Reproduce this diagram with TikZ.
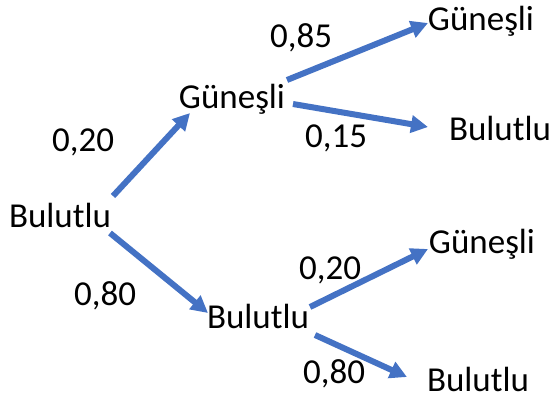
\documentclass[tikz,border=0pt]{standalone}
\usepackage{fontspec}
\setmainfont{Carlito}
\usetikzlibrary{arrows.meta}
\definecolor{arrowblue}{HTML}{4472C4}
\begin{document}
\begin{tikzpicture}[x=1pt,y=-1pt,
  lbl/.style={anchor=base,inner sep=0pt,font=\fontsize{35}{40}\selectfont},
  arr/.style={draw=arrowblue,line width=6pt,
    -{Triangle[length=17pt,width=17pt]},fill=arrowblue}]
\useasboundingbox (0,0) rectangle (552,396);
% states
\node[lbl] (root) at (60,227) {Bulutlu};
\node[lbl] (g1)   at (232,108) {Güneşli};
\node[lbl] (b1)   at (258,328) {Bulutlu};
\node[lbl] (gg)   at (481,31)  {Güneşli};
\node[lbl] (gb)   at (500,140) {Bulutlu};
\node[lbl] (bg)   at (482,253) {Güneşli};
\node[lbl] (bb)   at (478,391) {Bulutlu};
% probabilities
\node[lbl] (p1) at (83,151)  {0,20};
\node[lbl] (p2) at (105,305) {0,80};
\node[lbl] (p3) at (301,48)  {0,85};
\node[lbl] (p4) at (336,147) {0,15};
\node[lbl] (p5) at (330,279) {0,20};
\node[lbl] (p6) at (334,383) {0,80};
% branches
\draw[arr] ([shift={(53,-31)}]root.base) -- ([shift={(-42,5)}]g1.base);
\draw[arr] ([shift={(50,6)}]root.base)   -- ([shift={(-50,-15)}]b1.base);
\draw[arr] ([shift={(55,-28)}]g1.base)   -- ([shift={(-53,-8)}]gg.base);
\draw[arr] ([shift={(61,-4)}]g1.base)    -- ([shift={(-72,-13)}]gb.base);
\draw[arr] ([shift={(52,-21)}]b1.base)   -- ([shift={(-54,-4)}]bg.base);
\draw[arr] ([shift={(57,7)}]b1.base)     -- ([shift={(-71,-14)}]bb.base);
\end{tikzpicture}
\end{document}
